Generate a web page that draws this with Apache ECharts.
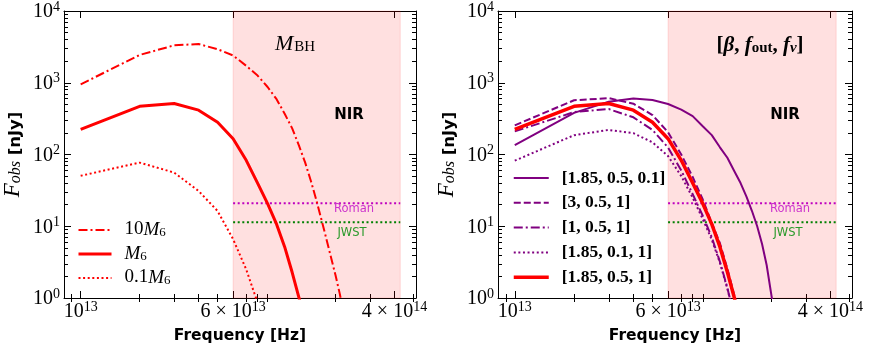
<!DOCTYPE html>
<html>
<head>
<meta charset="utf-8">
<script src="https://cdn.jsdelivr.net/npm/echarts@6/dist/echarts.min.js"></script>
<style>
html, body { margin: 0; padding: 0; background: #fff; }
#chart { width: 871px; height: 350px; }
</style>
</head>
<body>
<div id="chart"></div>
<script>
// frequencies of the computed points, n x 10^13 Hz
var nu = [1e13, 2e13, 3e13, 4e13, 5e13, 6e13, 7e13, 8e13, 9e13, 1e14, 1.1e14,
    1.2e14, 1.3e14, 1.4e14, 1.5e14, 1.6e14, 1.7e14, 1.8e14, 1.9e14, 2e14, 2.1e14, 2.2e14];

// left panel, black hole mass (nJy)
var flux10M6 = [950, 2440, 3320, 3460, 2930, 2400, 1720, 1260, 873, 590, 370,
    233, 134, 77, 42, 22.6, 12, 6.5, 3.6, 2.07, 1.16, 0.63];
var fluxM6 = [224, 470, 514, 415, 282, 166, 83, 40, 20.7, 10.7, 5.15, 2.3, 1.02, 0.45];
var flux01M6 = [50.5, 77, 56, 31, 16.3, 6.6, 2.5, 0.86, 0.3];

// right panel, [beta, f_out, f_v] (nJy)
var fluxFv01 = [135, 380, 545, 604, 575, 505, 422, 343, 248, 186, 126,
    90, 59, 40, 25.9, 16.3, 10, 5.65, 2.86, 1.17, 0.5];
var fluxBeta3 = [255, 570, 610, 510, 355, 204, 100, 48.6, 23.6, 11.1, 5.8, 2.55, 1.1, 0.5];
var fluxBeta1 = [210, 390, 430, 330, 220, 125, 60, 28, 14, 7, 3.2, 1.38, 0.56];
var fluxFout01 = [82, 186, 220, 198, 148, 95, 50, 25, 12.6, 6.5, 3.1, 1.35, 0.55];
var fluxFid = [224, 470, 514, 415, 282, 166, 83, 40, 20.7, 10.7, 5.15, 2.3, 1.02, 0.45];

// NIR band and detection limits
var nirBand = [6e13, 4.28e14];
var romanLimit = 21;
var jwstLimit = 11.4;

// axes
var xLim = [8.22e12, 5.15e14];
var yLim = [1, 1e4];
var xMajor = [1e13, 6e13, 4e14];
var xMajorText = [['', '13'], ['6 × ', '13'], ['4 × ', '14']];
var xMinor = [9e12, 2e13, 3e13, 4e13, 5e13, 7e13, 8e13, 9e13, 2e14, 3e14, 5e14];
var yMajor = [1, 10, 100, 1000, 10000];
var yMinor = [];
for (var d = 0; d < 4; d++) {
    for (var k = 2; k < 10; k++) yMinor.push(k * Math.pow(10, d));
}

var lg = Math.log10;

function pts(f) {
    return f.map(function (v, i) { return [lg(nu[i]), lg(v)]; });
}

var supRich = {
    b: { fontFamily: 'Liberation Serif', fontSize: 20, color: '#000', lineHeight: 22, verticalAlign: 'bottom' },
    s: { fontFamily: 'Liberation Serif', fontSize: 14, color: '#000', lineHeight: 22, verticalAlign: 'top', padding: [0, 0, 7, 0] }
};

function xAxes(gi) {
    var base = { type: 'value', gridIndex: gi, min: lg(xLim[0]), max: lg(xLim[1]), splitLine: { show: false } };
    var line = { show: true, onZero: false, lineStyle: { color: '#000', width: 1 } };
    var tickMaj = { show: true, inside: true, length: 7, customValues: xMajor.map(lg), lineStyle: { color: '#000', width: 1 } };
    var tickMin = { show: true, inside: true, length: 4, customValues: xMinor.map(lg), lineStyle: { color: '#000', width: 1 } };
    return [
        Object.assign({}, base, {
            position: 'bottom', axisLine: line, axisTick: tickMaj,
            axisLabel: {
                customValues: xMajor.map(lg), margin: 2, rich: supRich,
                formatter: function (v) {
                    for (var i = 0; i < xMajor.length; i++) {
                        if (Math.abs(lg(xMajor[i]) - v) < 1e-6) {
                            return '{b|' + xMajorText[i][0] + '10}{s|' + xMajorText[i][1] + '}';
                        }
                    }
                    return '';
                }
            },
            name: 'Frequency [Hz]', nameLocation: 'middle', nameGap: 30,
            nameTextStyle: { fontFamily: 'DejaVu Sans', fontWeight: 'bold', fontSize: 15.5, color: '#000' }
        }),
        Object.assign({}, base, { position: 'bottom', axisLine: { show: false }, axisTick: tickMin, axisLabel: { show: false } }),
        Object.assign({}, base, { position: 'top', axisLine: line, axisTick: tickMaj, axisLabel: { show: false } }),
        Object.assign({}, base, { position: 'top', axisLine: { show: false }, axisTick: tickMin, axisLabel: { show: false } })
    ];
}

function yAxes(gi) {
    var base = { type: 'value', gridIndex: gi, min: lg(yLim[0]), max: lg(yLim[1]), splitLine: { show: false } };
    var line = { show: true, onZero: false, lineStyle: { color: '#000', width: 1 } };
    var tickMaj = { show: true, inside: true, length: 7, customValues: yMajor.map(lg), lineStyle: { color: '#000', width: 1 } };
    var tickMin = { show: true, inside: true, length: 4, customValues: yMinor.map(lg), lineStyle: { color: '#000', width: 1 } };
    return [
        Object.assign({}, base, {
            position: 'left', axisLine: line, axisTick: tickMaj,
            axisLabel: {
                customValues: yMajor.map(lg), margin: 4, rich: supRich,
                formatter: function (v) { return '{b|10}{s|' + Math.round(v) + '}'; }
            },
            name: '{f|F}{o|obs}{n| [nJy]}', nameLocation: 'middle', nameRotate: 90, nameGap: 40,
            nameTextStyle: {
                rich: {
                    f: { fontFamily: 'Liberation Serif', fontStyle: 'italic', fontSize: 23, color: '#000', lineHeight: 22, verticalAlign: 'bottom' },
                    o: { fontFamily: 'Liberation Serif', fontStyle: 'italic', fontSize: 16, color: '#000', lineHeight: 16, verticalAlign: 'bottom', padding: [6, 0, 0, 0] },
                    n: { fontFamily: 'DejaVu Sans', fontWeight: 'bold', fontSize: 16.5, color: '#000', lineHeight: 22, verticalAlign: 'bottom' }
                }
            }
        }),
        Object.assign({}, base, { position: 'left', axisLine: { show: false }, axisTick: tickMin, axisLabel: { show: false } }),
        Object.assign({}, base, { position: 'right', axisLine: line, axisTick: tickMaj, axisLabel: { show: false } }),
        Object.assign({}, base, { position: 'right', axisLine: { show: false }, axisTick: tickMin, axisLabel: { show: false } })
    ];
}

function curve(name, gi, f, color, width, dash) {
    return {
        name: name, type: 'line', xAxisIndex: gi * 4, yAxisIndex: gi * 4,
        data: pts(f), symbol: 'none', clip: true, z: 3,
        lineStyle: { color: color, width: width, type: dash },
        itemStyle: { color: color }
    };
}

function limits(gi) {
    var out = [];
    [[romanLimit, '#bf00bf'], [jwstLimit, '#008000']].forEach(function (l) {
        out.push({
            type: 'line', xAxisIndex: gi * 4, yAxisIndex: gi * 4, symbol: 'none', z: 2,
            data: [[lg(nirBand[0]), lg(l[0])], [lg(nirBand[1]), lg(l[0])]],
            lineStyle: { color: l[1], width: 2, type: [2, 2.6] }, silent: true
        });
    });
    out[0].markArea = {
        silent: true,
        itemStyle: { color: 'rgba(255,0,0,0.12)', borderColor: 'rgba(255,0,0,0.12)', borderWidth: 1 },
        data: [[{ xAxis: lg(nirBand[0]) }, { xAxis: lg(nirBand[1]) }]]
    };
    return out;
}

var purple = '#800080';
var red = '#ff0000';
var dashDot = [9, 3, 2, 3];
var dotted = [2, 2.6];
var dashed = [7, 3];

var leftNames = ['10M6', 'M6', '0.1M6'];
var leftText = { '10M6': '{r|10}{i|M}{s|6}', 'M6': '{i2|M}{s|6}', '0.1M6': '{r|0.1}{i|M}{s|6}' };
var rightNames = ['[1.85, 0.5, 0.1]', '[3, 0.5, 1]', '[1, 0.5, 1]', '[1.85, 0.1, 1]', '[1.85, 0.5, 1]'];

var legRich = {
    r: { fontFamily: 'Liberation Serif', fontSize: 19, color: '#000', lineHeight: 18, verticalAlign: 'bottom', padding: [0, 0, 0, 8] },
    i: { fontFamily: 'Liberation Serif', fontStyle: 'italic', fontSize: 19, color: '#000', lineHeight: 18, verticalAlign: 'bottom' },
    s: { fontFamily: 'Liberation Serif', fontSize: 13, color: '#000', lineHeight: 12, verticalAlign: 'bottom', padding: [4, 0, 0, 0] },
    bb: { fontFamily: 'Liberation Serif', fontWeight: 'bold', fontSize: 17.5, color: '#000', lineHeight: 18, padding: [0, 0, 0, 8] }
};
legRich.i2 = Object.assign({}, legRich.i, { padding: [0, 0, 0, 8] });

function mathText(x, y, text, rich) {
    return { type: 'text', x: x, y: y, z: 10, style: { text: text, rich: rich, align: 'center', verticalAlign: 'middle', textAlign: 'center', textVerticalAlign: 'middle' } };
}

function plainText(x, y, text, font, color) {
    return { type: 'text', x: x, y: y, z: 10, style: { text: text, font: font, fill: color, align: 'center', verticalAlign: 'middle', textAlign: 'center', textVerticalAlign: 'middle' } };
}

var titleRich = {
    m: { fontFamily: 'Liberation Serif', fontStyle: 'italic', fontSize: 22, color: '#000', lineHeight: 22, verticalAlign: 'bottom' },
    sb: { fontFamily: 'Liberation Serif', fontSize: 15, color: '#000', lineHeight: 14, verticalAlign: 'bottom', padding: [5, 0, 0, 1] },
    t: { fontFamily: 'Liberation Serif', fontWeight: 'bold', fontSize: 21, color: '#000', lineHeight: 22, verticalAlign: 'bottom' },
    ti: { fontFamily: 'Liberation Serif', fontWeight: 'bold', fontStyle: 'italic', fontSize: 21, color: '#000', lineHeight: 22, verticalAlign: 'bottom' },
    ts: { fontFamily: 'Liberation Serif', fontWeight: 'bold', fontSize: 15, color: '#000', lineHeight: 14, verticalAlign: 'bottom', padding: [5, 0, 0, 0] },
    tsi: { fontFamily: 'Liberation Serif', fontWeight: 'bold', fontStyle: 'italic', fontSize: 15, color: '#000', lineHeight: 14, verticalAlign: 'bottom', padding: [5, 0, 0, 0] }
};

var series = [].concat(
    limits(0),
    [
        curve('10M6', 0, flux10M6, red, 2, dashDot),
        curve('M6', 0, fluxM6, red, 3, 'solid'),
        curve('0.1M6', 0, flux01M6, red, 2, dotted)
    ],
    limits(1),
    [
        curve('[1.85, 0.5, 0.1]', 1, fluxFv01, purple, 2, 'solid'),
        curve('[3, 0.5, 1]', 1, fluxBeta3, purple, 2, dashed),
        curve('[1, 0.5, 1]', 1, fluxBeta1, purple, 2, dashDot),
        curve('[1.85, 0.1, 1]', 1, fluxFout01, purple, 2, dotted),
        curve('[1.85, 0.5, 1]', 1, fluxFid, red, 3.5, 'solid')
    ]
);

var chart = echarts.init(document.getElementById('chart'), null, { renderer: 'canvas' });
chart.setOption({
    animation: false,
    backgroundColor: '#fff',
    grid: [
        { left: 62, top: 11, width: 354, height: 287 },
        { left: 498, top: 11, width: 354, height: 287 }
    ],
    xAxis: xAxes(0).concat(xAxes(1)),
    yAxis: yAxes(0).concat(yAxes(1)),
    legend: [
        {
            orient: 'vertical', left: 77, top: 220, padding: 0, itemWidth: 33, itemHeight: 14, itemGap: 5,
            data: leftNames, selectedMode: false,
            formatter: function (n) { return leftText[n]; },
            textStyle: { rich: legRich }, lineStyle: { width: 'inherit' }, itemStyle: { opacity: 0 }
        },
        {
            orient: 'vertical', left: 512, top: 169, padding: 0, itemWidth: 35, itemHeight: 14, itemGap: 6.8,
            data: rightNames, selectedMode: false,
            formatter: function (n) { return '{bb|' + n + '}'; },
            textStyle: { rich: legRich }, lineStyle: { width: 'inherit' }, itemStyle: { opacity: 0 }
        }
    ],
    graphic: [
        mathText(295, 44, '{m|M}{sb|BH}', titleRich),
        mathText(760, 45, '{t|[}{ti|β}{t|, }{ti|f}{ts|out}{t|, }{ti|f}{tsi|v}{t|]}', titleRich),
        plainText(349, 115, 'NIR', 'bold 15px "DejaVu Sans"', '#000'),
        plainText(785, 115, 'NIR', 'bold 15px "DejaVu Sans"', '#000'),
        plainText(354, 209, 'Roman', '11.5px "DejaVu Sans"', '#cc33cc'),
        plainText(790, 209, 'Roman', '11.5px "DejaVu Sans"', '#cc33cc'),
        plainText(352, 233, 'JWST', '11.5px "DejaVu Sans"', '#2b9a2b'),
        plainText(788, 233, 'JWST', '11.5px "DejaVu Sans"', '#2b9a2b')
    ],
    series: series
});
</script>
</body>
</html>
